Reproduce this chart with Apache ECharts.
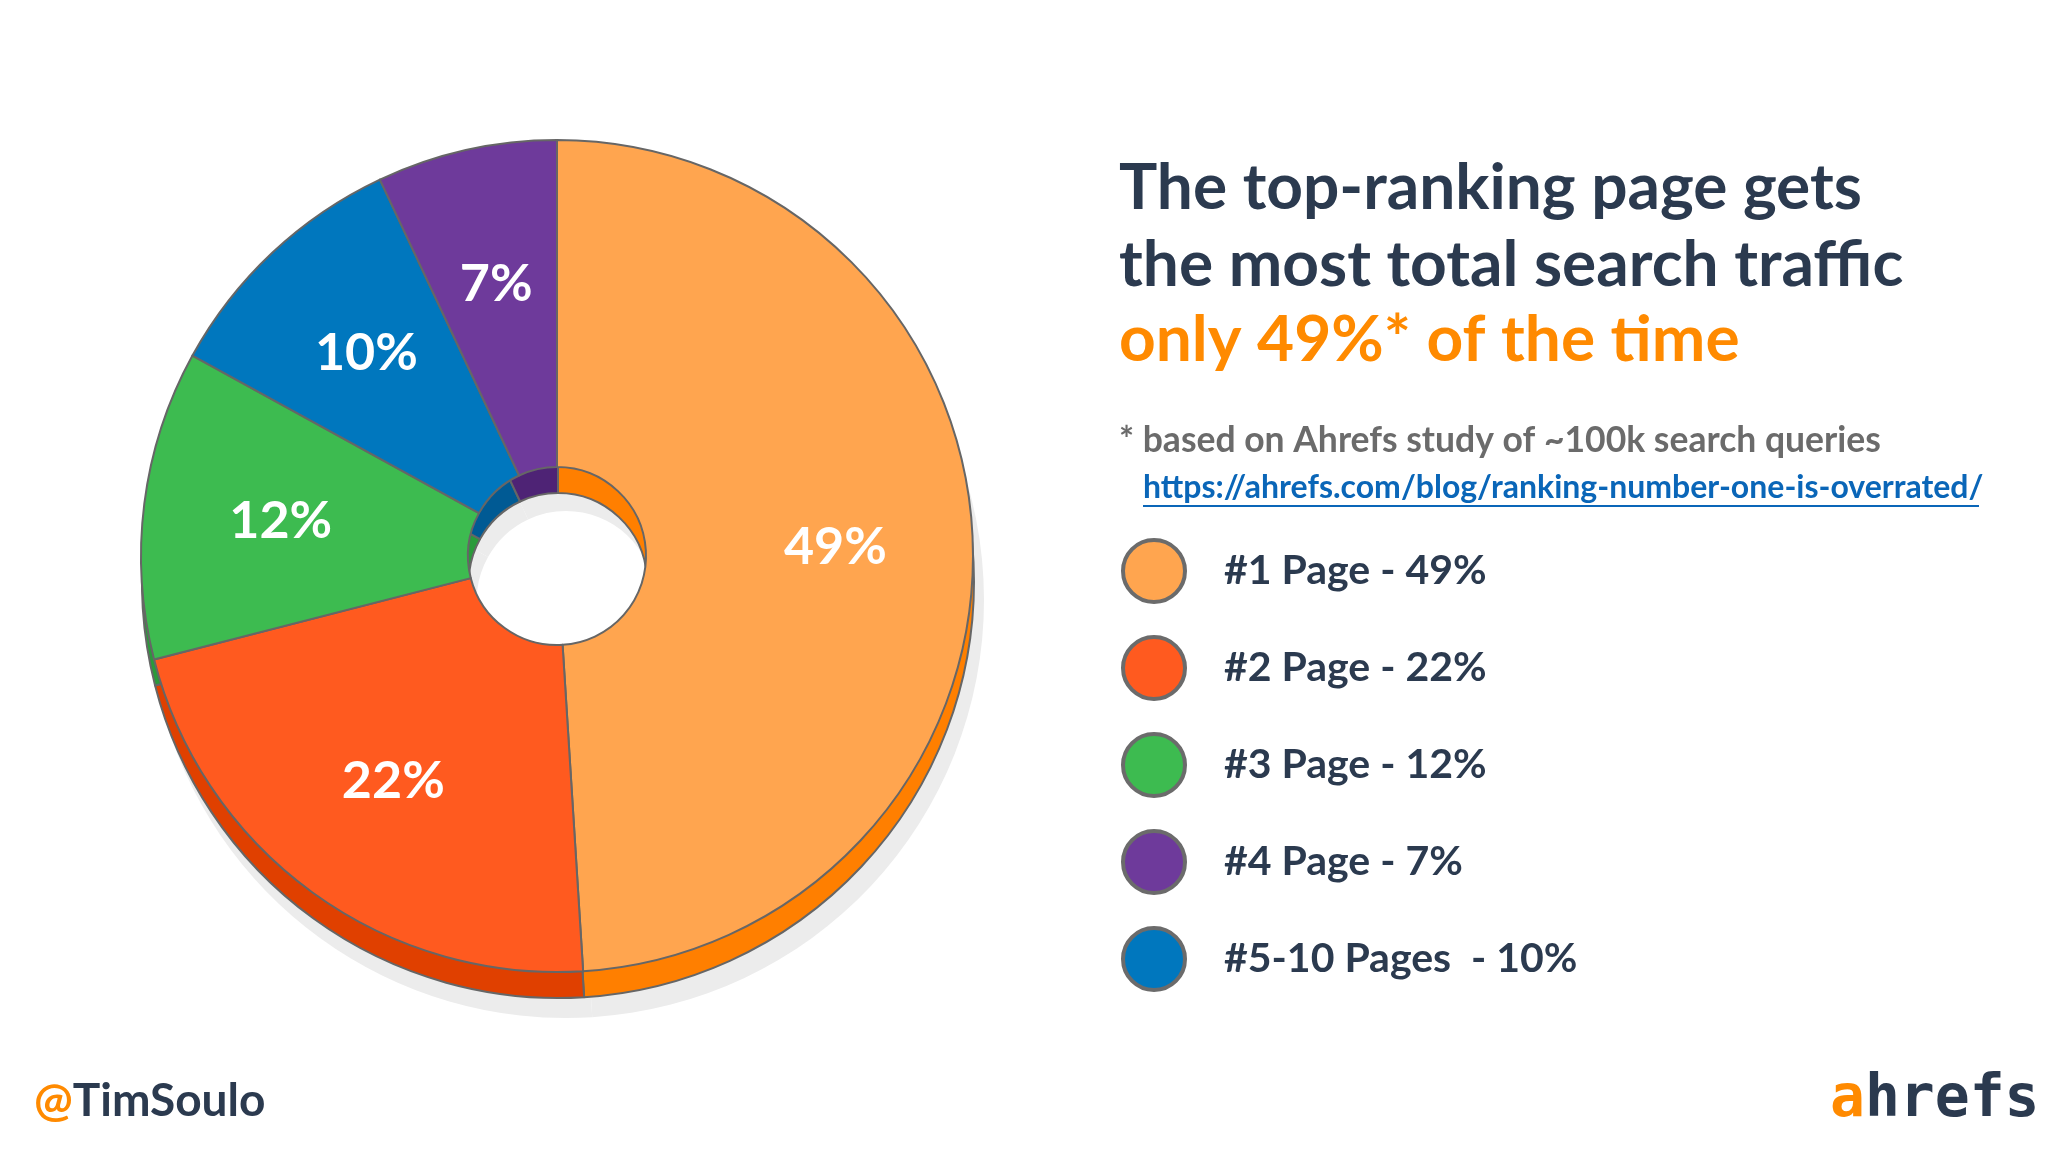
<!DOCTYPE html>
<html>
<head>
<meta charset="utf-8">
<title>ahrefs</title>
<style>body{margin:0;background:#fff}#main{width:2048px;height:1152px}</style>
</head>
<body>
<div id="main"></div>
<script src="https://cdn.jsdelivr.net/npm/echarts@6/dist/echarts.min.js"></script>
<script>
    // pie slices, clockwise from the top
    var names = ['#1 Page - 49%', '#2 Page - 22%', '#3 Page - 12%', '#5-10 Pages  - 10%', '#4 Page - 7%'];
    var values = [49, 22, 12, 10, 7];
    var colors = ['#FFA54F', '#FF5A1F', '#3DBB50', '#0077BE', '#6E3A9B'];
    var sideColors = ['#FF7F00', '#E04000', '#2A9A3A', '#005A94', '#4E2375'];
    var legendOrder = ['#1 Page - 49%', '#2 Page - 22%', '#3 Page - 12%', '#4 Page - 7%', '#5-10 Pages  - 10%'];

    var myChart = echarts.init(document.getElementById('main'));
    var font = 'Lato, "Open Sans", sans-serif';

    function slices(cols, named) {
        return values.map(function (v, i) {
            var d = {value: v, itemStyle: {color: cols[i]}};
            if (named) d.name = names[i];
            return d;
        });
    }

    option = {
        backgroundColor: '#fff',
        legend: {
            orient: 'vertical',
            left: 1116,
            top: 533,
            icon: 'circle',
            itemWidth: 62,
            itemHeight: 62,
            itemGap: 31,
            data: legendOrder,
            selectedMode: false,
            itemStyle: {borderColor: '#6b6b6b', borderWidth: 4},
            textStyle: {fontFamily: font, fontSize: 41, fontWeight: 'bold', color: '#2B3A4F', padding: [0, 0, 0, 34]}
        },
        graphic: [
            {type: 'text', left: 1119, top: 150, style: {text: 'The top-ranking page gets\nthe most total search traffic', font: 'bold 64px ' + font, fill: '#2B3A4F', lineHeight: 77}},
            {type: 'text', left: 1119, top: 308, style: {text: 'only 49%* of the time', font: 'bold 64px ' + font, fill: '#FF8A00'}},
            {type: 'text', left: 1119, top: 423, style: {text: '* based on Ahrefs study of ~100k search queries', font: 'bold 35.5px ' + font, fill: '#6b6b6b'}},
            {type: 'text', left: 1143, top: 472, style: {text: 'https://ahrefs.com/blog/ranking-number-one-is-overrated/', font: 'bold 32px ' + font, fill: '#0A66B8'}},
            {type: 'rect', left: 1143, top: 505, shape: {width: 836, height: 2}, style: {fill: '#0A66B8'}},
            {type: 'text', left: 34, top: 1078, style: {rich: {a: {font: 'bold 46px ' + font, fill: '#FF8A00'}, b: {font: 'bold 46px ' + font, fill: '#2B3A4F'}}, text: '{a|@}{b|TimSoulo}'}},
            {type: 'text', left: 1830, top: 1072, style: {rich: {a: {font: 'bold 58px "DejaVu Sans Mono", monospace', fill: '#FF8A00'}, b: {font: 'bold 58px "DejaVu Sans Mono", monospace', fill: '#2B3A4F'}}, text: '{a|a}{b|hrefs}'}}
        ],
        series: [{
            type: 'pie', silent: true, z: 1,
            center: [566, 600], radius: [89, 418],
            startAngle: 90, clockwise: true,
            label: {show: false}, labelLine: {show: false},
            data: values.map(function (v) { return {value: v, itemStyle: {color: '#ececec'}}; }),
            itemStyle: {borderWidth: 0}
        }, {
            type: 'pie', silent: true, z: 2,
            center: [558, 582], radius: [89, 416],
            startAngle: 90, clockwise: true,
            label: {show: false}, labelLine: {show: false},
            data: slices(sideColors, false),
            itemStyle: {borderColor: '#666', borderWidth: 2}
        }, {
            type: 'pie', z: 3,
            center: [557, 556], radius: [89, 416],
            startAngle: 90, clockwise: true,
            data: slices(colors, true),
            itemStyle: {borderColor: '#666', borderWidth: 2},
            label: {show: false},
            labelLine: {show: false}
        }, {
            // label ring only
            type: 'pie', silent: true, z: 4,
            center: [557, 556], radius: [89, 462],
            startAngle: 90, clockwise: true,
            data: slices(['rgba(0,0,0,0)', 'rgba(0,0,0,0)', 'rgba(0,0,0,0)', 'rgba(0,0,0,0)', 'rgba(0,0,0,0)'], false),
            itemStyle: {borderWidth: 0},
            label: {
                show: true, position: 'inner',
                formatter: function (p) { return p.value + '%'; },
                fontFamily: font, fontSize: 52, fontWeight: 'bold', color: '#fff'
            },
            labelLine: {show: false}
        }]
    };
    myChart.setOption(option);
</script>
</body>
</html>
